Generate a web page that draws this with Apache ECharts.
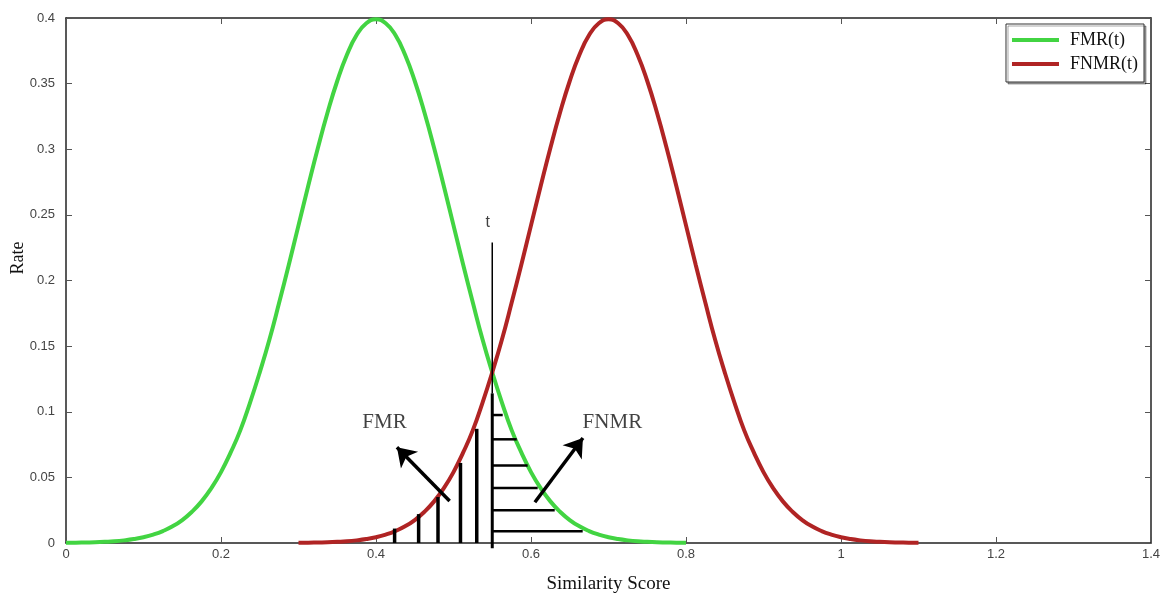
<!DOCTYPE html>
<html>
<head>
<meta charset="utf-8">
<script src="https://cdn.jsdelivr.net/npm/echarts@6/dist/echarts.min.js"></script>
<style>
  html, body { margin: 0; padding: 0; background: #fff; }
  #chart { width: 1169px; height: 598px; }
</style>
</head>
<body>
<div id="chart"></div>
<script>
// Curve samples along the similarity score axis (step 0.0125)
const fmrX = [0,0.0125,0.025,0.0375,0.05,0.0625,0.075,0.0875,0.1,0.1125,0.125,0.1375,0.15,0.1625,0.175,0.1875,0.2,0.2125,0.225,0.2375,0.25,0.2625,0.275,0.2875,0.3,0.3125,0.325,0.3375,0.35,0.3625,0.375,0.3875,0.4,0.4125,0.425,0.4375,0.45,0.4625,0.475,0.4875,0.5,0.5125,0.525,0.5375,0.55,0.5625,0.575,0.5875,0.6,0.6125,0.625,0.6375,0.65,0.6625,0.675,0.6875,0.7,0.7125,0.725,0.7375,0.75,0.7625,0.775,0.7875,0.8];
const fmrY = [0.0001,0.0002,0.0004,0.0006,0.0009,0.0013,0.0020,0.0030,0.0044,0.0064,0.0091,0.0127,0.0175,0.0238,0.0317,0.0417,0.054,0.069,0.086,0.107,0.130,0.155,0.183,0.212,0.242,0.272,0.301,0.328,0.352,0.372,0.387,0.396,0.399,0.396,0.387,0.372,0.352,0.328,0.301,0.272,0.242,0.212,0.183,0.155,0.130,0.107,0.086,0.069,0.054,0.0417,0.0317,0.0238,0.0175,0.0127,0.0091,0.0064,0.0044,0.0030,0.0020,0.0013,0.0009,0.0006,0.0004,0.0002,0.0001];
const fnmrX = [0.3,0.3125,0.325,0.3375,0.35,0.3625,0.375,0.3875,0.4,0.4125,0.425,0.4375,0.45,0.4625,0.475,0.4875,0.5,0.5125,0.525,0.5375,0.55,0.5625,0.575,0.5875,0.6,0.6125,0.625,0.6375,0.65,0.6625,0.675,0.6875,0.7,0.7125,0.725,0.7375,0.75,0.7625,0.775,0.7875,0.8,0.8125,0.825,0.8375,0.85,0.8625,0.875,0.8875,0.9,0.9125,0.925,0.9375,0.95,0.9625,0.975,0.9875,1.0,1.0125,1.025,1.0375,1.05,1.0625,1.075,1.0875,1.1];
const fnmrY = [0.0001,0.0002,0.0004,0.0006,0.0009,0.0013,0.0020,0.0030,0.0044,0.0064,0.0091,0.0127,0.0175,0.0238,0.0317,0.0417,0.054,0.069,0.086,0.107,0.130,0.155,0.183,0.212,0.242,0.272,0.301,0.328,0.352,0.372,0.387,0.396,0.399,0.396,0.387,0.372,0.352,0.328,0.301,0.272,0.242,0.212,0.183,0.155,0.130,0.107,0.086,0.069,0.054,0.0417,0.0317,0.0238,0.0175,0.0127,0.0091,0.0064,0.0044,0.0030,0.0020,0.0013,0.0009,0.0006,0.0004,0.0002,0.0001];

// Threshold t
const threshold = 0.55;
const thresholdTop = 0.229;
const thresholdThickTop = 0.114;

// Vertical hatching under FNMR(t), left of t
const fmrHatchX = [0.424, 0.455, 0.480, 0.509, 0.530];
const fmrHatchTop = [0.011, 0.022, 0.035, 0.061, 0.087];

// Horizontal hatching under FMR(t), right of t
const fnmrHatchY = [0.0975, 0.079, 0.059, 0.042, 0.025, 0.009];
const fnmrHatchEnd = [0.5635, 0.5816, 0.5957, 0.6086, 0.6306, 0.6667];

// Annotation arrows: [x1, y1, x2, y2]
const arrowFMR = [0.495, 0.032, 0.427, 0.073];
const arrowFNMR = [0.605, 0.031, 0.667, 0.080];

// Annotation texts: [x, y, text]
const notes = [[0.411, 0.092, 'FMR'], [0.705, 0.092, 'FNMR']];
const tNote = [0.544, 0.244, 't'];

const xTicks = { min: 0, max: 1.4, interval: 0.2 };
const yTicks = { min: 0, max: 0.4, interval: 0.05 };

const zip = (xs, ys) => xs.map((x, i) => [x, ys[i]]);

const serif = '"Liberation Serif", "DejaVu Serif", serif';
const sans = '"Liberation Sans", Arial, sans-serif';
const axisColor = '#222';

function segmentSeries(name, segs, width) {
  return {
    name: name,
    type: 'custom',
    silent: true,
    z: 4,
    data: segs,
    renderItem: function (params, api) {
      const p1 = api.coord([api.value(0), api.value(1)]);
      const p2 = api.coord([api.value(2), api.value(3)]);
      return {
        type: 'line',
        shape: { x1: p1[0], y1: p1[1], x2: p2[0], y2: p2[1] },
        style: { stroke: '#000', lineWidth: width }
      };
    }
  };
}

const vHatch = fmrHatchX.map((x, i) => [x, 0, x, fmrHatchTop[i]]);
const hHatch = fnmrHatchY.map((y, i) => [threshold, y, fnmrHatchEnd[i], y]);
const tLineThin = [[threshold, thresholdThickTop, threshold, thresholdTop]];
const tLineThick = [[threshold, -0.004, threshold, thresholdThickTop]];

const chart = echarts.init(document.getElementById('chart'), null, { renderer: 'canvas' });

const xAxisBase = {
  type: 'value',
  min: xTicks.min, max: xTicks.max, interval: xTicks.interval,
  axisLine: { show: true, onZero: false, lineStyle: { color: axisColor, width: 1.5 } },
  axisTick: { show: true, inside: true, length: 6, lineStyle: { color: '#555' } },
  splitLine: { show: false }
};
const yAxisBase = {
  type: 'value',
  min: yTicks.min, max: yTicks.max, interval: yTicks.interval,
  axisLine: { show: true, onZero: false, lineStyle: { color: axisColor, width: 1.5 } },
  axisTick: { show: true, inside: true, length: 6, lineStyle: { color: '#555' } },
  splitLine: { show: false }
};

chart.setOption({
  animation: false,
  backgroundColor: '#fff',
  grid: { left: 66, right: 18, top: 18, bottom: 55, containLabel: false, outerBoundsMode: 'none' },
  legend: {
    right: 25, top: 24,
    orient: 'vertical',
    itemWidth: 47, itemHeight: 4, itemGap: 6,
    padding: [7, 6, 9, 6],
    borderColor: '#333', borderWidth: 1,
    backgroundColor: '#fff',
    shadowColor: 'rgba(0,0,0,0.35)', shadowOffsetX: 2, shadowOffsetY: 2,
    textStyle: { fontFamily: serif, fontSize: 18, color: '#111', padding: [0, 0, 0, 6] },
    data: [{ name: 'FMR(t)', icon: 'rect' }, { name: 'FNMR(t)', icon: 'rect' }]
  },
  // y-axis title, placed a little above the axis middle
  graphic: [{
    type: 'text',
    x: 18, y: 258,
    rotation: Math.PI / 2,
    silent: true,
    style: {
      text: 'Rate', align: 'center', verticalAlign: 'middle',
      fill: '#111', font: '18px "Liberation Serif", "DejaVu Serif", serif'
    }
  }],
  xAxis: [
    Object.assign({}, xAxisBase, {
      position: 'bottom',
      name: 'Similarity Score', nameLocation: 'middle', nameGap: 32,
      nameTextStyle: { fontFamily: serif, fontSize: 19, color: '#111' },
      axisLabel: { fontFamily: sans, fontSize: 13, color: '#444', margin: 5 }
    }),
    Object.assign({}, xAxisBase, { position: 'top', axisLabel: { show: false } })
  ],
  yAxis: [
    Object.assign({}, yAxisBase, {
      position: 'left',
      axisLabel: { fontFamily: sans, fontSize: 13, color: '#444', margin: 11 }
    }),
    Object.assign({}, yAxisBase, { position: 'right', axisLabel: { show: false } })
  ],
  series: [
    {
      name: 'FMR(t)', type: 'line', data: zip(fmrX, fmrY),
      smooth: true, symbol: 'none', z: 3,
      itemStyle: { color: '#42d442' },
      lineStyle: { color: '#42d442', width: 4 }
    },
    {
      name: 'FNMR(t)', type: 'line', data: zip(fnmrX, fnmrY),
      smooth: true, symbol: 'none', z: 3,
      itemStyle: { color: '#b02424' },
      lineStyle: { color: '#b02424', width: 4 }
    },
    segmentSeries('fmrHatch', vHatch, 3.5),
    segmentSeries('fnmrHatch', hHatch, 2.5),
    segmentSeries('tThin', tLineThin, 1.5),
    segmentSeries('tThick', tLineThick, 3),
    {
      name: 'arrows', type: 'lines', coordinateSystem: 'cartesian2d',
      silent: true, z: 5,
      symbol: ['none', 'arrow'], symbolSize: 18,
      lineStyle: { color: '#000', width: 3.5, opacity: 1 },
      data: [
        { coords: [[arrowFMR[0], arrowFMR[1]], [arrowFMR[2], arrowFMR[3]]] },
        { coords: [[arrowFNMR[0], arrowFNMR[1]], [arrowFNMR[2], arrowFNMR[3]]] }
      ]
    },
    {
      name: 'notes', type: 'scatter', silent: true, symbolSize: 0, z: 6,
      data: notes.map(n => ({ value: [n[0], n[1]], name: n[2] })),
      label: {
        show: true, position: 'inside', formatter: '{b}',
        fontFamily: serif, fontSize: 21, color: '#111'
      }
    },
    {
      name: 'tNote', type: 'scatter', silent: true, symbolSize: 0, z: 6,
      data: [{ value: [tNote[0], tNote[1]], name: tNote[2] }],
      label: {
        show: true, position: 'inside', formatter: '{b}',
        fontFamily: sans, fontSize: 16, color: '#111'
      }
    }
  ]
});
</script>
</body>
</html>
